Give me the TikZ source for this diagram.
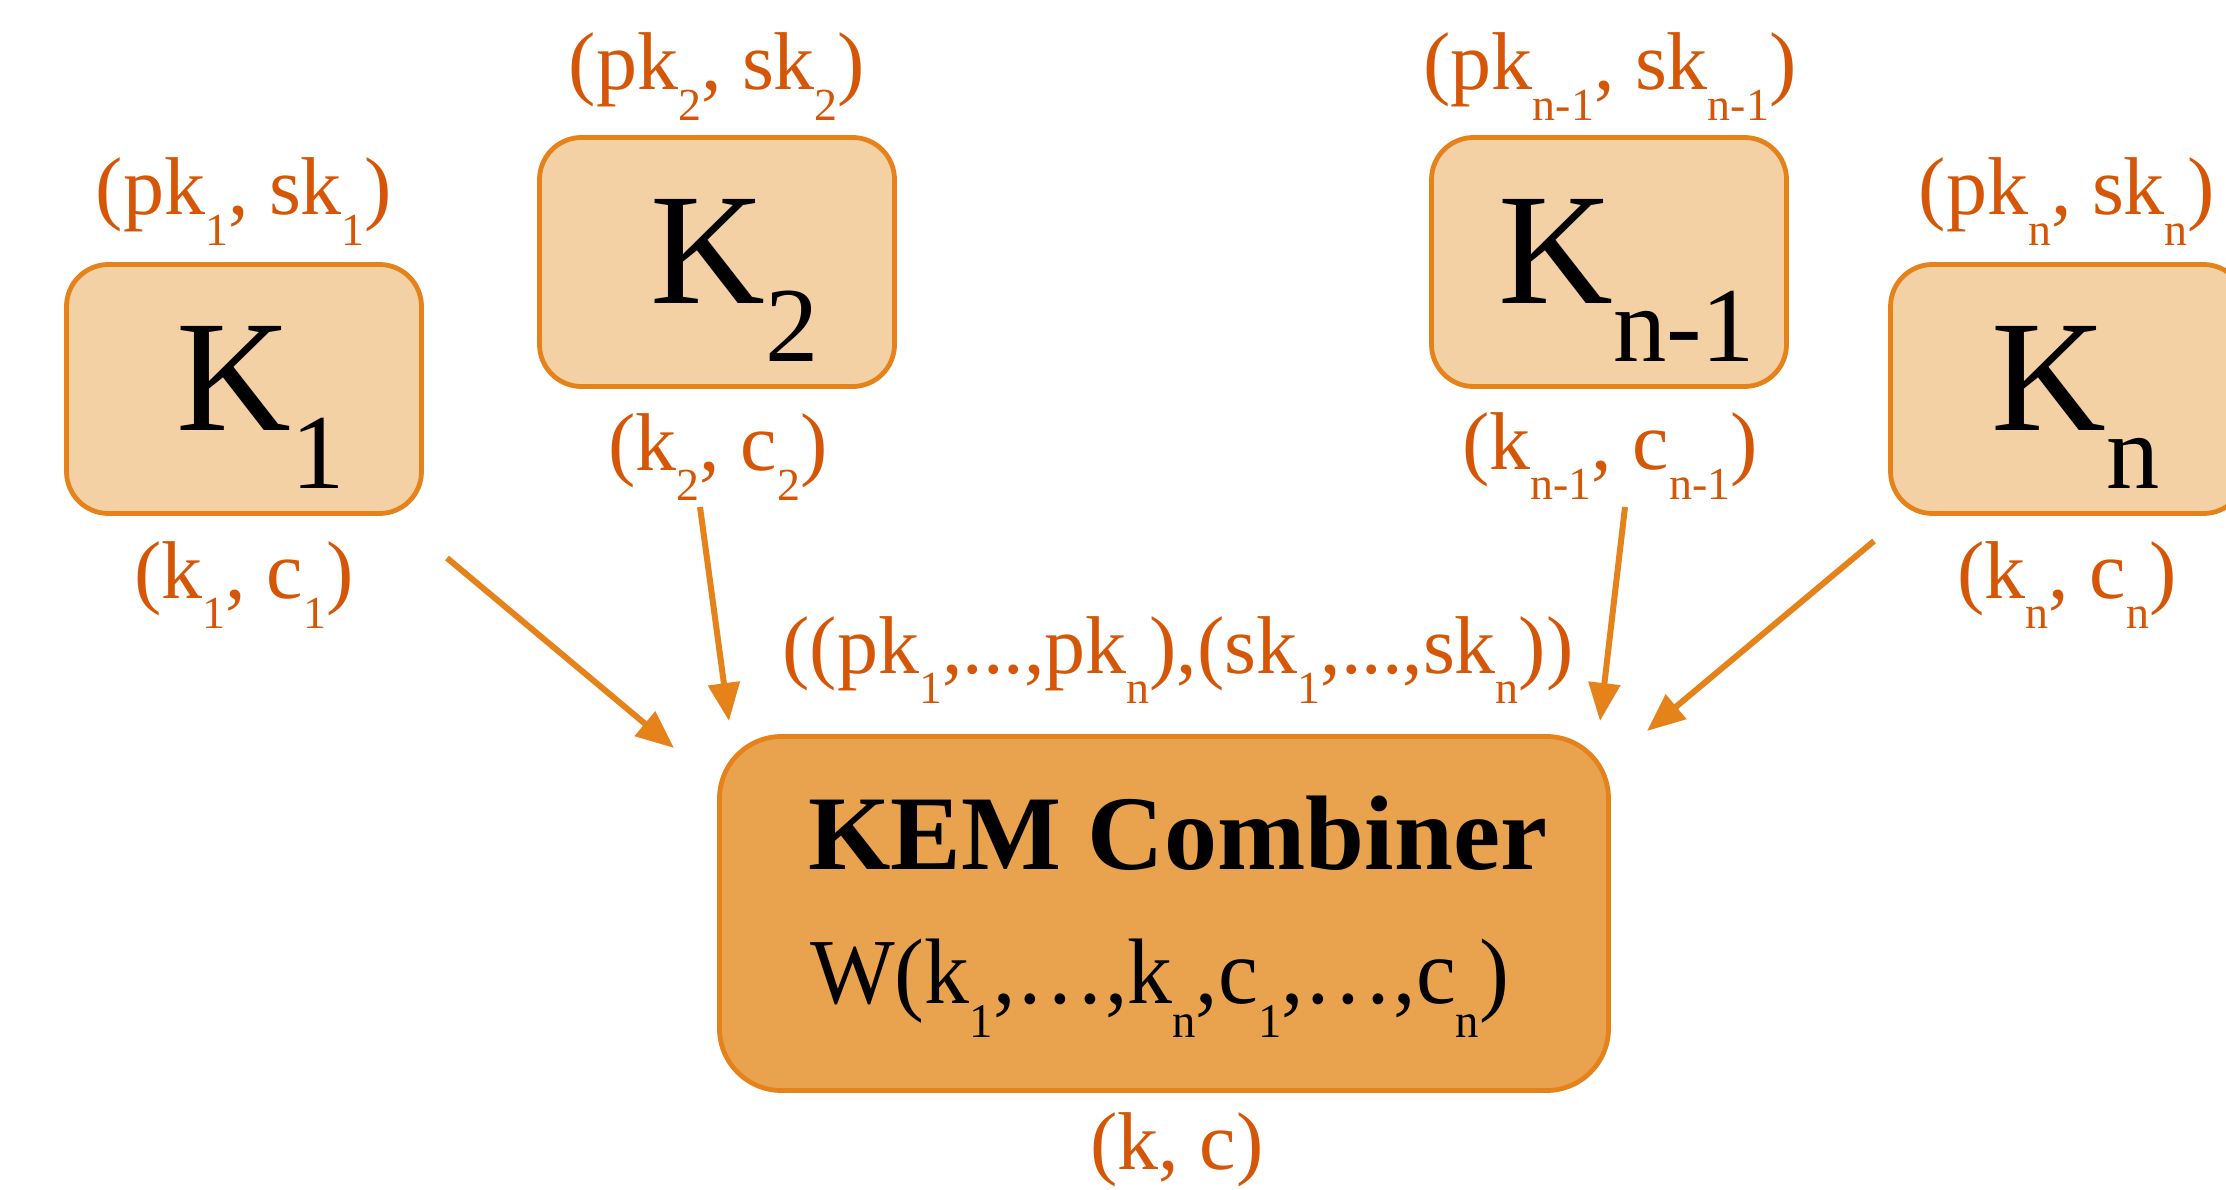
\documentclass[tikz,border=0pt]{standalone}
\usepackage{fontspec}
\setmainfont{Liberation Serif}
\usepackage{graphicx}
\usetikzlibrary{arrows.meta}
\definecolor{lblc}{RGB}{213,86,6}
\definecolor{kfill}{RGB}{243,209,165}
\definecolor{kdraw}{RGB}{229,131,26}
\definecolor{cfill}{RGB}{233,163,79}
\newcommand{\lo}[2][0.56]{\raisebox{-0.37em}{\scalebox{#1}{#2}}}
\begin{document}
\begin{tikzpicture}[x=1pt,y=-1pt,
  kbox/.style={draw=kdraw, fill=kfill, line width=4.8pt, rounded corners=42pt,
    minimum width=355pt, minimum height=249pt, inner sep=0pt},
  cbox/.style={draw=kdraw, fill=cfill, line width=4.8pt, rounded corners=62pt,
    minimum width=889pt, minimum height=354pt, inner sep=0pt},
  lab/.style={text=lblc, font=\fontsize{82}{90}\selectfont, inner sep=0pt, anchor=base},
  bigk/.style={font=\fontsize{159}{160}\selectfont, inner sep=0pt, anchor=base west},
  arr/.style={draw=kdraw, line width=6pt, -{Triangle[length=38pt,width=31pt]}}
]
\useasboundingbox (0,0) rectangle (2226,1190);

% boxes
\node[kbox] (K1) at (244,389) {};
\node[kbox] (K2) at (717,262) {};
\node[kbox] (Kn1) at (1609,262) {};
\node[kbox] (Kn) at (2068,389) {};
\node[cbox] (C) at (1164,913.5) {};

% box texts
\node[bigk] (t1) at (176,430) {K\lo[0.67]{1}};
\node[bigk] (t2) at (650,303) {K\lo[0.67]{2}};
\node[bigk] (tn1) at (1498,303) {K\lo[0.67]{n-1}};
\node[bigk] (tn) at (1991,430) {K\lo[0.67]{n}};

\node[inner sep=0pt, anchor=base west, font=\fontsize{106}{110}\selectfont\bfseries] (kem) at (808,869) {KEM Combiner};
\node[inner sep=0pt, anchor=base west, font=\fontsize{93}{100}\selectfont] (w) at (810,1003)
  {\scalebox{0.965}[1]{W(k\lo[0.52]{1},…,k\lo[0.52]{n},c\lo[0.52]{1},…,c\lo[0.52]{n})}};

% labels
\node[lab] (p1) at (244,215) {(pk\lo{1}, sk\lo{1})};
\node[lab] (o1) at (244,598) {(k\lo{1}, c\lo{1})};
\node[lab] (p2) at (717,90) {(pk\lo{2}, sk\lo{2})};
\node[lab] (o2) at (718,470) {(k\lo{2}, c\lo{2})};
\node[lab] (pn1) at (1610,90) {(pk\lo{n-1}, sk\lo{n-1})};
\node[lab] (on1) at (1610,469) {(k\lo{n-1}, c\lo{n-1})};
\node[lab] (pn) at (2067,215) {(pk\lo{n}, sk\lo{n})};
\node[lab] (on) at (2067,598) {(k\lo{n}, c\lo{n})};
\node[lab] (tup) at (1178,673) {((pk\lo{1},...,pk\lo{n}),(sk\lo{1},...,sk\lo{n}))};
\node[lab] (kc) at (1177,1169) {(k, c)};

% arrows
\coordinate (a1s) at (447,558);  \coordinate (a1e) at (674,748);
\coordinate (a2s) at (700,507);  \coordinate (a2e) at (729,721);
\coordinate (a3s) at (1625,507); \coordinate (a3e) at (1600,721);
\coordinate (a4s) at (1874,541); \coordinate (a4e) at (1647,731);
\draw[arr] (a1s) -- (a1e);
\draw[arr] (a2s) -- (a2e);
\draw[arr] (a3s) -- (a3e);
\draw[arr] (a4s) -- (a4e);
\end{tikzpicture}
\end{document}
